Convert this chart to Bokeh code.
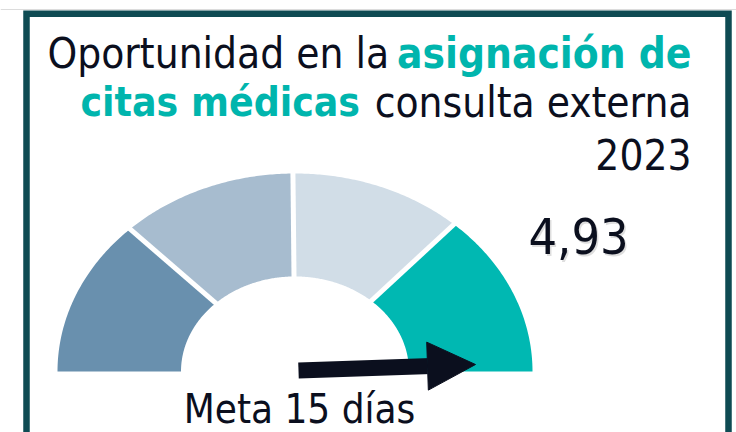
from bokeh.plotting import figure
from bokeh.models import Range1d, Arrow, NormalHead
from bokeh.core.properties import value
from bokeh.embed import file_html
from bokeh.resources import INLINE
import numpy as np

# ---------------- data ----------------
title_regular_1 = "Oportunidad en la "
title_bold_1 = "asignación de"
title_bold_2 = "citas médicas"
title_regular_2 = "consulta externa"
title_year = "2023"
indicator_text = "4,93"
goal_text = "Meta 15 días"

# gauge bands (angles in degrees, 180 = left end, 0 = right end)
band_start_deg = [180.0, 134.0, 90.5, 48.0]
band_end_deg = [134.0, 90.5, 48.0, 0.0]
band_colors = ["#6990ae", "#a7bccf", "#d1dde7", "#00b8b2"]
band_inner = 0.48

# ---------------- layout (page pixels) ----------------
W, H = 736, 432
X0, Y0 = 0, 0
FONT = "DejaVu Sans Condensed"
DARK = "#0b0f1e"
TEAL = "#00b5ad"

p = figure(width=W, height=H, output_backend="svg", toolbar_location=None,
           x_range=Range1d(X0, X0 + W), y_range=Range1d(Y0 + H, Y0),
           min_border=0, outline_line_color=None, background_fill_color="white",
           border_fill_color="white")
p.axis.visible = False
p.grid.visible = False

# gauge coordinate system (unit ellipse)
gcx, gcy, grx, gry = 294.5, 371.0, 237.5, 198.0
p.extra_x_ranges = {"g": Range1d((X0 - gcx) / grx, (X0 + W - gcx) / grx)}
p.extra_y_ranges = {"g": Range1d((gcy - (Y0 + H)) / gry, (gcy - Y0) / gry)}

# frame of slide
p.line([0, 736], [9, 9], line_color="#dcdcdc", line_width=1)
p.line([26, 26, 728, 728], [440, 13.3, 13.3, 440], line_color="#0e4b53",
       line_width=6.5, line_join="miter")

# gauge bands
xs, ys = [], []
for a0, a1 in zip(band_start_deg, band_end_deg):
    t = np.radians(np.linspace(a0, a1, 80))
    ox, oy = np.cos(t), np.sin(t)
    xs.append(np.concatenate([ox, band_inner * ox[::-1]]).tolist())
    ys.append(np.concatenate([oy, band_inner * oy[::-1]]).tolist())
p.patches(xs, ys, fill_color=band_colors, line_color=None,
          x_range_name="g", y_range_name="g")
# white separators
sx, sy = [], []
for a in band_end_deg[:-1]:
    r = np.radians(a)
    sx.append([0.44 * np.cos(r), 1.05 * np.cos(r)])
    sy.append([0.44 * np.sin(r), 1.05 * np.sin(r)])
p.multi_line(sx, sy, line_color="white", line_width=5,
             x_range_name="g", y_range_name="g")

# arrow
p.add_layout(Arrow(x_start=298, y_start=370, x_end=475, y_end=364,
                   line_color=DARK, line_width=16,
                   end=NormalHead(size=48, fill_color=DARK, line_color=DARK, line_width=1)))

def txt(x, ymid, s, size, color, align, bold=False, alpha=1.0):
    p.text(x=[x], y=[ymid], text=[s], text_font=value(FONT), text_font_size=f"{size}px",
           text_color=color, text_align=align, text_baseline="middle",
           text_font_style="bold" if bold else "normal", text_alpha=alpha)

# title
txt(47, 52.5, title_regular_1, 42, DARK, "left")
txt(691, 52.5, title_bold_1, 42, TEAL, "right", bold=True)
txt(80, 101.5, title_bold_2, 40.5, TEAL, "left", bold=True)
txt(691, 101.5, title_regular_2, 42, DARK, "right")
txt(691, 153.5, title_year, 42, DARK, "right")

# value
txt(529.5, 237, indicator_text, 50, "#a0a0a0", "left", alpha=0.35)
txt(528, 235.5, indicator_text, 50, DARK, "left")

# goal
txt(299, 408.5, goal_text, 40, DARK, "center")

open("out.html", "w").write(file_html(p, INLINE))
